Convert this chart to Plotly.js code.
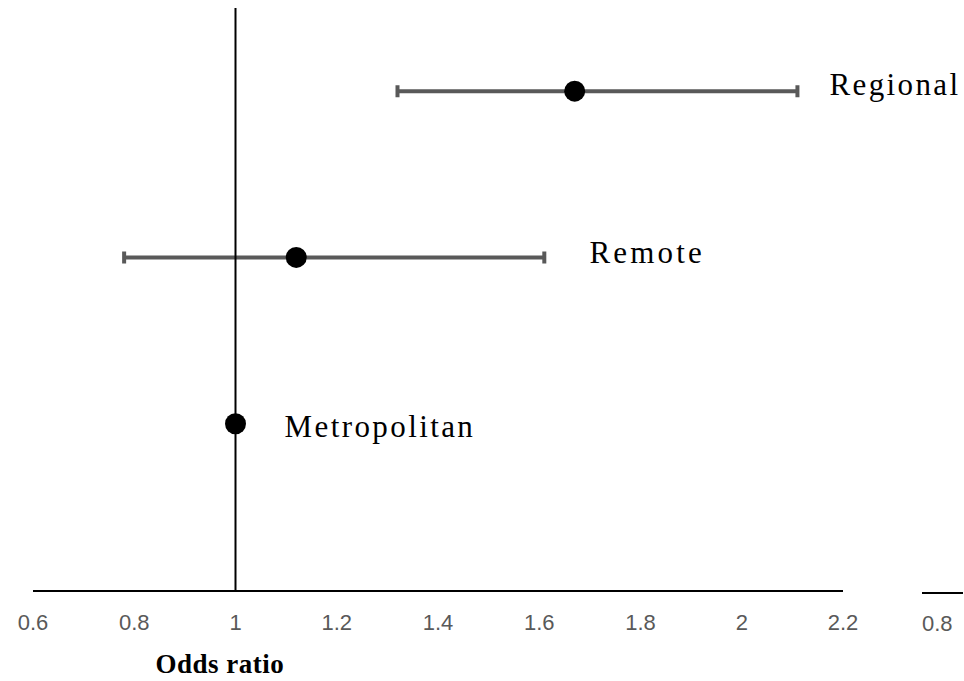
<!DOCTYPE html>
<html>
<head>
<meta charset="utf-8">
<script src="https://cdn.plot.ly/plotly-3.0.1.min.js"></script>
<style>
html,body{margin:0;padding:0;background:#fff;}
#chart{width:964px;height:681px;}
</style>
</head>
<body>
<div id="chart"></div>
<script>
// Data
const regions = ['Regional', 'Remote', 'Metropolitan'];
const oddsRatio = [1.67, 1.12, 1.00];
const ciLower = [1.32, 0.78, null];
const ciUpper = [2.11, 1.61, null];
const xTickValues = [0.6, 0.8, 1, 1.2, 1.4, 1.6, 1.8, 2, 2.2];
const xTickLabels = ['0.6', '0.8', '1', '1.2', '1.4', '1.6', '1.8', '2', '2.2'];
const strayTickLabel = '0.8';
const xTitle = 'Odds ratio';

const errPlus = oddsRatio.map((v, i) => ciUpper[i] == null ? null : ciUpper[i] - v);
const errMinus = oddsRatio.map((v, i) => ciLower[i] == null ? null : v - ciLower[i]);

const trace = {
  type: 'scatter',
  mode: 'markers',
  x: oddsRatio,
  y: regions,
  marker: {color: '#000000', size: 21},
  error_x: {
    type: 'data',
    symmetric: false,
    array: errPlus,
    arrayminus: errMinus,
    color: '#595959',
    thickness: 4,
    width: 6
  },
  hoverinfo: 'skip',
  showlegend: false
};

const labelShift = [40, 53, 61];
const labelYShift = [7, 5, -3];
const annotations = regions.map((r, i) => ({
  x: ciUpper[i] == null ? oddsRatio[i] : ciUpper[i],
  y: r,
  xref: 'x', yref: 'y',
  text: r,
  showarrow: false,
  xanchor: 'left', yanchor: 'middle',
  xshift: labelShift[i], yshift: labelYShift[i],
  font: {family: '"Liberation Serif", "Times New Roman", serif', size: 31, color: '#000'}
}));
annotations.push({
  x: (156 - 33) / 810, y: 0, xref: 'paper', yref: 'paper',
  yshift: -74,
  text: xTitle, showarrow: false,
  xanchor: 'left', yanchor: 'middle',
  font: {family: '"Liberation Serif", "Times New Roman", serif', size: 27, color: '#000', weight: 'bold'}
});
annotations.push({
  x: (937 - 33) / 810, y: 0, xref: 'paper', yref: 'paper',
  yshift: -33,
  text: strayTickLabel, showarrow: false,
  xanchor: 'center', yanchor: 'middle',
  font: {family: '"Liberation Sans", Arial, sans-serif', size: 22, color: '#595959'}
});

const layout = {
  width: 964, height: 681,
  margin: {l: 33, r: 121, t: 8, b: 91},
  paper_bgcolor: '#ffffff',
  plot_bgcolor: '#ffffff',
  xaxis: {
    range: [0.6, 2.2],
    tickmode: 'array',
    tickvals: xTickValues,
    ticktext: xTickLabels,
    showgrid: false,
    zeroline: false,
    showline: true,
    linecolor: '#000000',
    linewidth: 2,
    ticks: '',
    ticklabelstandoff: 12,
    tickfont: {family: '"Liberation Sans", Arial, sans-serif', size: 22, color: '#595959'}
  },
  yaxis: {
    type: 'category',
    categoryorder: 'array',
    categoryarray: regions.slice().reverse(),
    range: [-1, 2.5],
    showgrid: false,
    zeroline: false,
    showline: false,
    showticklabels: false,
    ticks: ''
  },
  shapes: [
    {type: 'line', xref: 'x', yref: 'paper', x0: 1, x1: 1, y0: 0, y1: 1,
     line: {color: '#000000', width: 2}},
    {type: 'line', xref: 'paper', yref: 'paper',
     x0: (922 - 33) / 810, x1: (963 - 33) / 810, y0: -0.005, y1: -0.005,
     line: {color: '#000000', width: 2}}
  ],
  annotations: annotations
};

Plotly.newPlot('chart', [trace], layout, {displayModeBar: false, staticPlot: true}).then(function () {
  const spacing = ['2.4px', '3.2px', '2.4px', '0.5px'];
  document.querySelectorAll('#chart .annotation').forEach(function (g) {
    const idx = +g.getAttribute('data-index');
    const t = g.querySelector('text.annotation-text');
    if (t && spacing[idx]) t.style.letterSpacing = spacing[idx];
  });
});
</script>
</body>
</html>
